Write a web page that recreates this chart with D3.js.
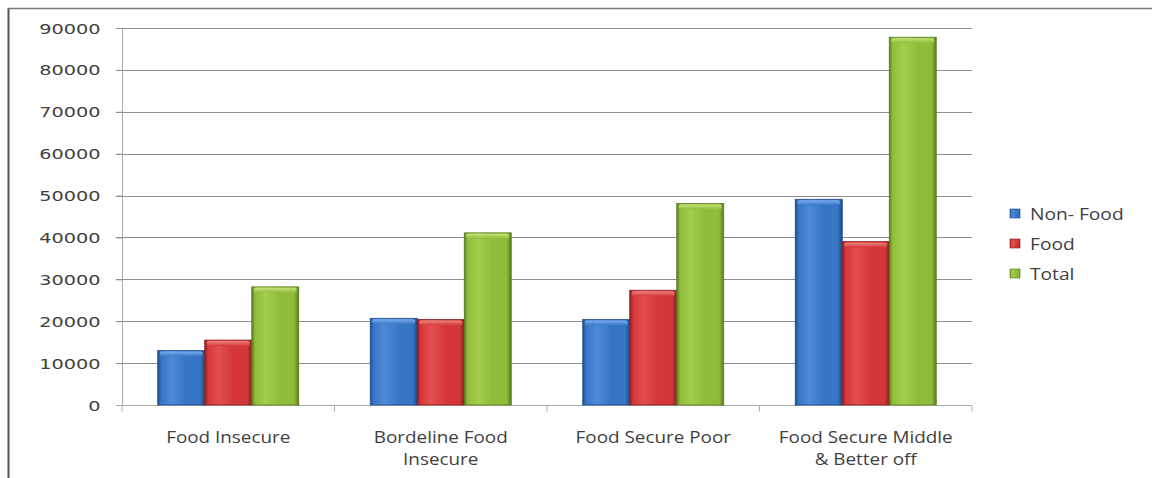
<!DOCTYPE html>
<html><head><meta charset="utf-8">
<script src="https://cdn.jsdelivr.net/npm/d3@7"></script>
<style>body{margin:0;background:#fff}svg{display:block}</style>
</head><body><svg id="c" width="1152" height="478"></svg>
<script>
const categories = [["Food Insecure"], ["Bordeline Food", "Insecure"], ["Food Secure Poor"], ["Food Secure Middle", "& Better off"]];
const seriesNames = ["Non- Food", "Food", "Total"];
const nonFood = [13000, 20700, 20400, 49100];
const food = [15500, 20400, 27400, 39000];
const total = [28200, 41100, 48100, 87800];
const yTicks = [0, 10000, 20000, 30000, 40000, 50000, 60000, 70000, 80000, 90000];
const colors = [
  {base:"#3775c6", light:"#4f8ad8", dark:"#1d4a88", top:"#7fb3ee"},
  {base:"#d5363a", light:"#e2504e", dark:"#86201f", top:"#f08c86"},
  {base:"#8fbd3a", light:"#a3cd4c", dark:"#5a7a1e", top:"#c8e57e"}
];
const series = [nonFood, food, total];

const svg = d3.select("#c");
const M = {l:122, r:972, t:28, b:405};
const font = "'DejaVu Sans', sans-serif";
const txt = "#3f3f3f";
const SX = 1.33;

// frame
svg.append("line").attr("x1",8.5).attr("x2",8.5).attr("y1",8).attr("y2",478).attr("stroke","#555").attr("stroke-width",2);
svg.append("line").attr("x1",8).attr("x2",1152).attr("y1",8.5).attr("y2",8.5).attr("stroke","#777").attr("stroke-width",1.5);

const y = d3.scaleLinear().domain([0, 90000]).range([M.b, M.t]);
const x = d3.scaleBand().domain(d3.range(categories.length)).range([M.l, M.r]).paddingInner(0).paddingOuter(0);
const xi = d3.scaleBand().domain(d3.range(3)).range([0, 141]);

// defs gradients
const defs = svg.append("defs");
colors.forEach((c,i)=>{
  const g = defs.append("linearGradient").attr("id","g"+i).attr("x1","0").attr("x2","1").attr("y1","0").attr("y2","0");
  [[0,c.dark],[0.07,c.base],[0.3,c.light],[0.6,c.base],[0.9,c.base],[1,c.dark]].forEach(s=>g.append("stop").attr("offset",s[0]).attr("stop-color",s[1]));
  const t = defs.append("linearGradient").attr("id","t"+i).attr("x1","0").attr("x2","0").attr("y1","0").attr("y2","1");
  [[0,c.top],[1,c.base]].forEach(s=>t.append("stop").attr("offset",s[0]).attr("stop-color",s[1]));
});

// gridlines
svg.append("g").selectAll("line").data(yTicks.filter(d=>d>0)).join("line")
  .attr("x1", M.l-6).attr("x2", M.r).attr("y1", d=>Math.round(y(d))+0.5).attr("y2", d=>Math.round(y(d))+0.5)
  .attr("stroke","#8f8f8f").attr("stroke-width",1);

// y axis
const ya = svg.append("g").attr("transform",`translate(${M.l+0.5},0)`)
  .call(d3.axisLeft(y).tickValues(yTicks).tickSize(6).tickPadding(0).tickFormat(d3.format("d")));
ya.select(".domain").attr("stroke","#aaa").attr("d",`M0,${M.t}V${M.b}`);
ya.selectAll(".tick line").attr("stroke","#8f8f8f");
ya.selectAll(".tick text").attr("x",0).attr("dy","0.35em")
  .attr("transform",`translate(-22,0) scale(${SX},1)`)
  .attr("font-family",font).attr("font-size",14.5).attr("fill",txt);

// x axis
const xa = svg.append("g").attr("transform",`translate(0,${M.b+0.5})`);
xa.append("line").attr("x1",M.l-6).attr("x2",M.r).attr("stroke","#aaa");
xa.selectAll("line.t").data(d3.range(categories.length+1)).join("line").attr("class","t")
  .attr("x1",d=>M.l + d*x.bandwidth()).attr("x2",d=>M.l + d*x.bandwidth()).attr("y1",0).attr("y2",6).attr("stroke","#aaa");

// bars
const groups = svg.append("g").selectAll("g").data(categories).join("g")
  .attr("transform",(d,i)=>`translate(${x(i)+(x.bandwidth()-141)/2},0)`);
series.forEach((vals,si)=>{
  groups.each(function(d,ci){
    const g = d3.select(this);
    const bx = xi(si), bw = xi.bandwidth(), by = y(vals[ci]), bh = M.b - y(vals[ci]);
    g.append("rect").attr("x",bx).attr("y",by).attr("width",bw).attr("height",bh)
      .attr("fill",`url(#g${si})`).attr("stroke",colors[si].dark).attr("stroke-width",0.8);
    g.append("rect").attr("x",bx+2).attr("y",by+1).attr("width",bw-4).attr("height",Math.min(5,bh))
      .attr("rx",2).attr("fill",`url(#t${si})`).attr("opacity",0.9);
  });
});

// category labels
categories.forEach((lines,i)=>{
  const cx = x(i)+x.bandwidth()/2;
  lines.forEach((ln,j)=>{
    svg.append("text").text(ln)
      .attr("transform",`translate(${cx},${443+j*22}) scale(1.18,1)`)
      .attr("text-anchor","middle").attr("font-family","'Open Sans', sans-serif").attr("font-size",16).attr("fill",txt);
  });
});

// legend
const lg = svg.append("g").attr("transform","translate(1010,214)");
seriesNames.forEach((n,i)=>{
  const r = lg.append("g").attr("transform",`translate(0,${i*30})`);
  r.append("rect").attr("x",0).attr("y",-5).attr("width",10).attr("height",9)
    .attr("fill",`url(#g${i})`).attr("stroke",colors[i].dark).attr("stroke-width",0.6);
  r.append("text").text(n).attr("transform","translate(20,0) scale(1.2,1)").attr("dy","0.35em")
    .attr("font-family","'Open Sans', sans-serif").attr("font-size",16).attr("fill",txt);
});
</script></body></html>
